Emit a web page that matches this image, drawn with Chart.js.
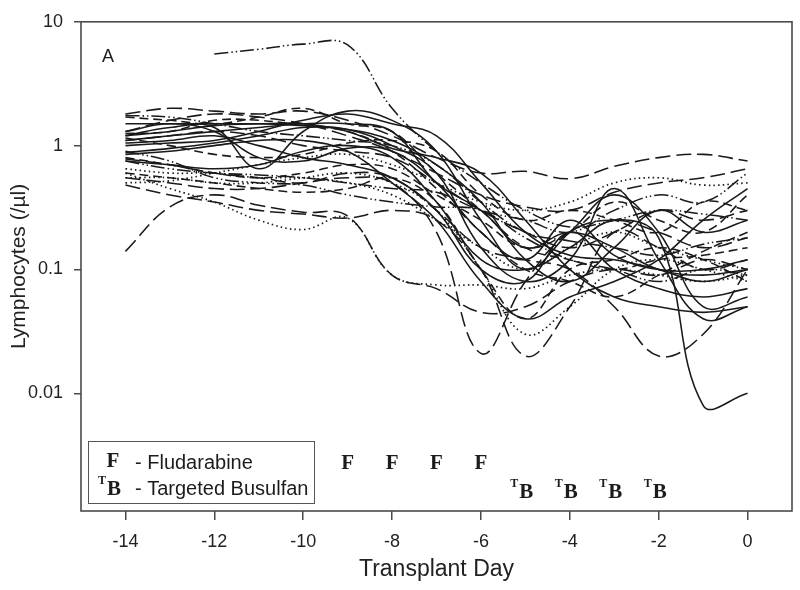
<!DOCTYPE html>
<html>
<head>
<meta charset="utf-8">
<script src="https://cdn.jsdelivr.net/npm/chart.js@4/dist/chart.umd.min.js"></script>
<style>
html,body{margin:0;padding:0;background:#fff;}
#wrap{width:800px;height:590px;position:relative;}
</style>
</head>
<body>
<div id="wrap"><canvas id="c" width="800" height="590"></canvas></div>
<script>
// ---- data ----
const days = [-14,-13,-12,-11,-10,-9,-8,-7,-6,-5,-4,-3,-2,-1,0];
const xTicks = [-14,-12,-10,-8,-6,-4,-2,0];
const yTicks = [10,1,0.1,0.01];
const yTickLabels = ['10','1','0.1','0.01'];
const fludarabineDays = [-9,-8,-7,-6];
const busulfanDays = [-5,-4,-3,-2];

// solid lines
const solid1 = [1.1,1.2,1.3,1.4,1.5,1.5,1.3,0.5,0.3,0.15,0.2,0.15,0.1,0.09,0.1];
const solid2 = [1.2,1.4,1.4,0.65,1.3,1.9,1.6,0.9,0.25,0.1,0.2,0.4,0.2,0.05,0.06];
const solid3 = [0.88,0.95,1.05,1.2,1.4,1.35,1.1,0.7,0.35,0.12,0.08,0.15,0.3,0.2,0.25];
const solid4 = [1.5,1.5,1.5,1.5,1.45,1.35,1.0,0.6,0.15,0.08,0.12,0.45,0.12,0.04,0.05];
const solid5 = [1.3,1.5,1.3,0.8,0.75,0.95,0.9,0.5,0.2,0.12,0.25,0.13,0.1,0.1,0.12];
const solid6 = [0.75,0.7,0.65,0.7,0.9,1.0,0.8,0.35,0.12,0.1,0.15,0.25,0.18,0.008,0.01];
const solid7 = [1.0,1.05,1.1,1.3,1.6,1.8,1.5,1.2,0.5,0.2,0.13,0.12,0.1,0.08,0.1];
const solid8 = [0.85,0.9,1.0,1.1,1.1,0.9,0.5,0.25,0.08,0.04,0.06,0.08,0.12,0.25,0.45];
const solid9 = [1.2,1.3,1.45,1.5,1.5,1.3,0.95,0.8,0.6,0.25,0.1,0.06,0.05,0.045,0.05];
const solid10 = [1.05,1.1,1.2,1.0,0.8,0.7,0.55,0.3,0.1,0.08,0.2,0.1,0.07,0.06,0.07];
// long dashed lines
const longDash1 = [1.8,2.0,1.9,1.8,1.9,1.6,1.2,0.8,0.6,0.62,0.54,0.68,0.8,0.85,0.75];
const longDash2 = [1.3,1.6,1.8,1.7,1.5,1.2,0.9,0.6,0.4,0.32,0.3,0.42,0.5,0.55,0.65];
const longDash3 = [0.55,0.5,0.45,0.45,0.5,0.55,0.5,0.2,0.021,0.08,0.2,0.25,0.2,0.15,0.18];
const longDash4 = [0.48,0.4,0.35,0.3,0.28,0.26,0.3,0.25,0.1,0.02,0.05,0.2,0.15,0.1,0.12];
const longDash5 = [0.78,0.7,0.6,0.55,0.5,0.6,0.55,0.3,0.15,0.12,0.1,0.05,0.02,0.03,0.1];
const longDash6 = [1.1,1.2,1.3,1.2,1.0,0.9,0.8,0.5,0.3,0.2,0.15,0.2,0.3,0.25,0.3];
const longDash7 = [0.14,0.32,0.4,0.33,0.29,0.27,0.09,0.07,0.045,0.05,0.08,0.1,0.09,0.12,0.1];
// medium dashed lines
const dash1 = [1.25,1.3,1.6,1.6,1.45,1.3,0.9,0.45,0.2,0.1,0.08,0.06,0.09,0.14,0.2];
const dash2 = [0.8,0.7,0.6,0.55,0.6,0.7,0.65,0.4,0.25,0.15,0.2,0.35,0.25,0.2,0.4];
const dash3 = [1.7,1.6,1.5,1.7,2.0,1.5,1.3,0.6,0.3,0.15,0.12,0.1,0.12,0.13,0.15];
const dash4 = [0.6,0.55,0.5,0.45,0.42,0.45,0.55,0.35,0.1,0.04,0.1,0.12,0.15,0.12,0.08];
const dash5 = [1.15,1.0,0.85,0.8,0.85,1.05,1.1,0.9,0.4,0.25,0.3,0.25,0.2,0.35,0.3];
// dash-dot-dot lines
const dashDot1 = [null,null,5.5,6.0,6.6,6.5,2.0,0.9,0.5,0.3,0.22,0.25,0.3,0.28,0.25];
const dashDot2 = [1.75,1.7,1.5,1.3,1.2,1.1,1.0,0.7,0.35,0.2,0.17,0.15,0.13,0.16,0.18];
const dashDot3 = [0.75,0.65,0.6,0.58,0.55,0.5,0.45,0.42,0.3,0.25,0.2,0.3,0.4,0.35,0.6];
const dashDot4 = [0.9,0.75,0.55,0.5,0.48,0.4,0.35,0.32,0.3,0.18,0.12,0.1,0.08,0.1,0.09];
// dotted lines
const dotted1 = [0.6,0.45,0.35,0.25,0.21,0.26,0.09,0.075,0.075,0.07,0.09,0.1,0.09,0.08,0.09];
const dotted2 = [0.55,0.55,0.5,0.5,0.55,0.6,0.5,0.3,0.1,0.03,0.05,0.1,0.12,0.1,0.08];
const dotted3 = [0.5,0.52,0.6,0.7,0.8,0.85,0.7,0.5,0.35,0.3,0.35,0.5,0.55,0.48,0.5];
const dotted4 = [0.65,0.6,0.6,0.55,0.55,0.5,0.4,0.25,0.15,0.1,0.15,0.2,0.15,0.12,0.1];

// ---- styles ----
const STYLE = {
  solid: [],
  longDash: [15,6],
  dash: [9,5],
  dashDot: [14,3,1.5,3,1.5,3],
  dotted: [1.5,3.2]
};
const seriesList = [
  [solid1,'solid'],[solid2,'solid'],[solid3,'solid'],[solid4,'solid'],[solid5,'solid'],
  [solid6,'solid'],[solid7,'solid'],[solid8,'solid'],[solid9,'solid'],[solid10,'solid'],
  [longDash1,'longDash'],[longDash2,'longDash'],[longDash3,'longDash'],[longDash4,'longDash'],
  [longDash5,'longDash'],[longDash6,'longDash'],[longDash7,'longDash'],
  [dash1,'dash'],[dash2,'dash'],[dash3,'dash'],[dash4,'dash'],[dash5,'dash'],
  [dashDot1,'dashDot'],[dashDot2,'dashDot'],[dashDot3,'dashDot'],[dashDot4,'dashDot'],
  [dotted1,'dotted'],[dotted2,'dotted'],[dotted3,'dotted'],[dotted4,'dotted']
];

const datasets = seriesList.map(([vals, st], i) => ({
  label: 'Patient ' + (i+1),
  data: days.map((d, k) => ({x: d, y: vals[k]})),
  borderColor: '#1a1a1a',
  borderWidth: st === 'dotted' ? 1.7 : 1.55,
  borderDash: STYLE[st],
  pointRadius: 0,
  tension: 0.4,
  fill: false,
  spanGaps: false
}));

const SANS = '"Liberation Sans", Arial, sans-serif';
const SERIF = '"Liberation Serif", "Times New Roman", serif';

const annot = {
  id: 'annot',
  afterDraw(chart) {
    const ctx = chart.ctx, a = chart.chartArea;
    const xs = chart.scales.x, ys = chart.scales.y;
    ctx.save();
    // frame
    ctx.strokeStyle = '#4a4a4a';
    ctx.lineWidth = 1.6;
    ctx.strokeRect(a.left, a.top, a.right - a.left, a.bottom - a.top);
    ctx.fillStyle = '#1c1c1c';
    // panel letter
    ctx.font = '18px ' + SANS;
    ctx.textAlign = 'center'; ctx.textBaseline = 'middle';
    ctx.fillText('A', a.left + 27, a.top + 35);
    // drug markers
    const fY = ys.getPixelForValue(0.0027);
    const bY = ys.getPixelForValue(0.00158);
    ctx.font = 'bold 21px ' + SERIF;
    fludarabineDays.forEach(d => ctx.fillText('F', xs.getPixelForValue(d), fY));
    busulfanDays.forEach(d => {
      const px = xs.getPixelForValue(d);
      ctx.font = 'bold 21px ' + SERIF;
      ctx.fillText('B', px + 1, bY);
      ctx.font = 'bold 12px ' + SERIF;
      ctx.fillText('T', px - 11, bY - 9);
    });
    // legend box
    const lx = a.left + 7, ly = a.bottom - 70;
    ctx.strokeStyle = '#555';
    ctx.lineWidth = 1;
    ctx.strokeRect(lx + 0.5, ly + 0.5, 226, 62);
    ctx.font = 'bold 21px ' + SERIF;
    ctx.fillText('F', lx + 25, ly + 21);
    ctx.fillText('B', lx + 26, ly + 49);
    ctx.font = 'bold 12px ' + SERIF;
    ctx.fillText('T', lx + 14, ly + 40);
    ctx.font = '20px ' + SANS;
    ctx.textAlign = 'left';
    ctx.fillText('- Fludarabine', lx + 47, ly + 22);
    ctx.fillText('- Targeted Busulfan', lx + 47, ly + 48);
    ctx.restore();
  }
};

new Chart(document.getElementById('c'), {
  type: 'line',
  data: { datasets },
  options: {
    responsive: false,
    animation: false,
    devicePixelRatio: 1,
    layout: { padding: { left: 0, top: 13, right: 8, bottom: 0 } },
    plugins: { legend: { display: false }, tooltip: { enabled: false } },
    scales: {
      x: {
        type: 'linear',
        min: -15, max: 1,
        afterBuildTicks: s => { s.ticks = xTicks.map(v => ({value: v})); },
        afterFit: s => { s.height = 79; },
        ticks: { color: '#222', font: { family: SANS, size: 18 }, padding: 11,
                 callback: v => String(v) },
        grid: { drawOnChartArea: false, drawTicks: true, tickLength: 9, color: '#4a4a4a', lineWidth: 1.5 },
        border: { display: false },
        title: { display: true, text: 'Transplant Day', color: '#222',
                 font: { family: SANS, size: 23 }, padding: { top: 0, bottom: 7 } }
      },
      y: {
        type: 'logarithmic',
        min: 0.00112, max: 10,
        afterBuildTicks: s => { s.ticks = yTicks.map(v => ({value: v})); },
        afterFit: s => { s.width = 81; },
        ticks: { color: '#222', font: { family: SANS, size: 18 }, padding: 11,
                 callback: (v) => { const i = yTicks.indexOf(v); return i >= 0 ? yTickLabels[i] : ''; } },
        grid: { drawOnChartArea: false, drawTicks: true, tickLength: 7, color: '#4a4a4a', lineWidth: 1.5 },
        border: { display: false },
        title: { display: true, text: 'Lymphocytes (/µl)', color: '#222',
                 font: { family: SANS, size: 21 }, padding: { top: 7, bottom: 0 } }
      }
    }
  },
  plugins: [annot]
});
</script>
</body>
</html>
